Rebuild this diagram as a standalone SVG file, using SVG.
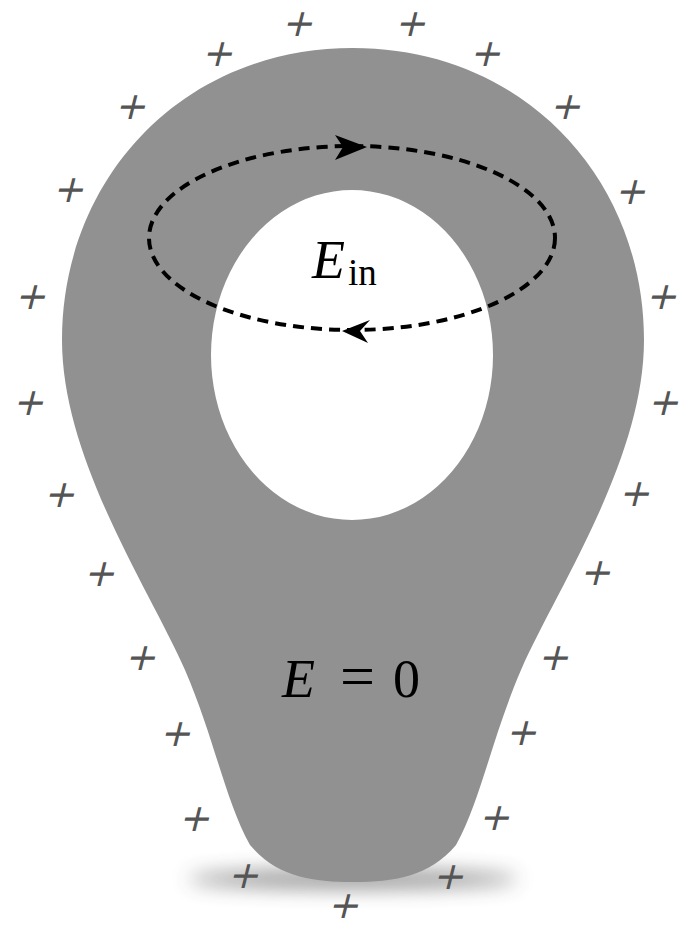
<svg xmlns="http://www.w3.org/2000/svg" width="681" height="926" viewBox="0 0 681 926">
<defs>
<style>
.plus{font-family:"DejaVu Sans",sans-serif;font-size:38px;fill:#555;text-anchor:middle}
.math{font-family:"Liberation Serif",serif;fill:#000}
.dash{fill:none;stroke:#000;stroke-width:4;stroke-dasharray:11 7}
.arrow{fill:#000}
</style>
<filter id="blur" x="-50%" y="-300%" width="200%" height="700%"><feGaussianBlur stdDeviation="10"/></filter>
</defs>
<rect width="681" height="926" fill="#fff"/>
<g id="shadow">
<ellipse cx="353" cy="879" rx="165" ry="9" fill="#444" opacity="0.6" filter="url(#blur)"/>
</g>
<g id="conductor">
<path fill="#919191" fill-rule="evenodd" d="M353,48 C181,48 62,180 62,340 C62,460 150,590 185,670 C215,740 225,800 250,845 C277,877 312,882 353,882 C394,882 429,877 456,845 C481,800 491,740 521,670 C556,590 644,460 644,340 C644,180 525,48 353,48 Z M352,190 A141,165 0 1 0 352.01,190 Z"/>
</g>
<g id="charges">
<text class="plus" transform="translate(297,36) skewX(-14)">+</text>
<text class="plus" transform="translate(410,36) skewX(-14)">+</text>
<text class="plus" transform="translate(217,66) skewX(-14)">+</text>
<text class="plus" transform="translate(485,66) skewX(-14)">+</text>
<text class="plus" transform="translate(130,119) skewX(-14)">+</text>
<text class="plus" transform="translate(565,119) skewX(-14)">+</text>
<text class="plus" transform="translate(68,202) skewX(-14)">+</text>
<text class="plus" transform="translate(630,204) skewX(-14)">+</text>
<text class="plus" transform="translate(30,309) skewX(-14)">+</text>
<text class="plus" transform="translate(661,309) skewX(-14)">+</text>
<text class="plus" transform="translate(28,415) skewX(-14)">+</text>
<text class="plus" transform="translate(663,415) skewX(-14)">+</text>
<text class="plus" transform="translate(59,507) skewX(-14)">+</text>
<text class="plus" transform="translate(634,506) skewX(-14)">+</text>
<text class="plus" transform="translate(99,586) skewX(-14)">+</text>
<text class="plus" transform="translate(595,585) skewX(-14)">+</text>
<text class="plus" transform="translate(140,670) skewX(-14)">+</text>
<text class="plus" transform="translate(553,670) skewX(-14)">+</text>
<text class="plus" transform="translate(175,746) skewX(-14)">+</text>
<text class="plus" transform="translate(521,745) skewX(-14)">+</text>
<text class="plus" transform="translate(194,831) skewX(-14)">+</text>
<text class="plus" transform="translate(494,830) skewX(-14)">+</text>
<text class="plus" transform="translate(243,888) skewX(-14)">+</text>
<text class="plus" transform="translate(448,889) skewX(-14)">+</text>
<text class="plus" transform="translate(343,918) skewX(-14)">+</text>
</g>
<g id="connectors">
<ellipse class="dash" cx="352" cy="238" rx="203" ry="92"/>
<path class="arrow" d="M367,147 L335,135 L343,147 L335,160 Z"/>
<path class="arrow" d="M342,331 L370,320 L360,331 L368,343 Z"/>
</g>
<g id="label-in">
<text class="math" x="312" y="278" font-size="54" font-style="italic">E</text>
<text class="math" x="348" y="285" font-size="37">in</text>
</g>
<g id="label-zero">
<text class="math" x="282" y="697" font-size="54" font-style="italic">E</text>
<text class="math" x="340" y="697" font-size="62">=</text>
<text class="math" x="393" y="697" font-size="54">0</text>
</g>
</svg>
